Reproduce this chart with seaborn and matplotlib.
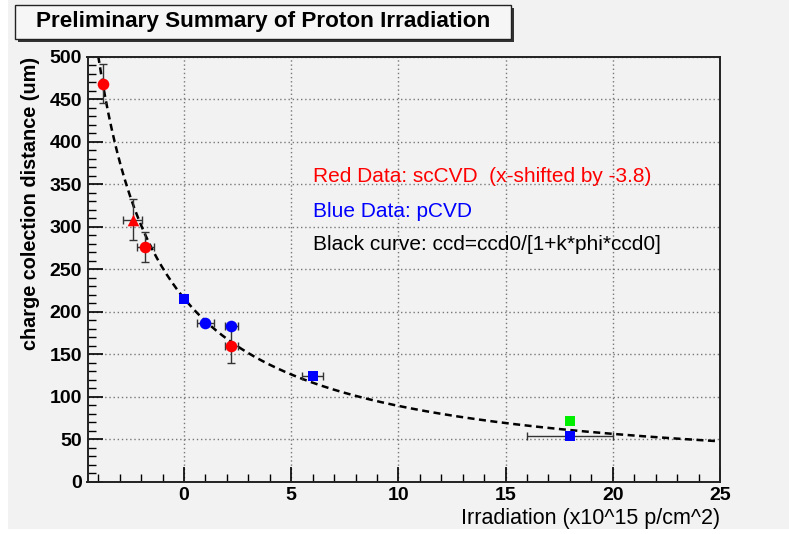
import numpy as np
import pandas as pd
import matplotlib
matplotlib.use("Agg")
import matplotlib.pyplot as plt
from matplotlib.patches import Rectangle
from matplotlib.ticker import MultipleLocator
import seaborn as sns


# values
red_x = [-3.8, -1.8, 2.2]
red_y = [468, 276, 160]
red_xerr = [0.0, 0.4, 0.3]
red_yerr = [23, 18, 20]

tri_x = [-2.4]
tri_y = [308]
tri_xerr = [0.43]
tri_yerr = [24]

blue_circ_x = [1.0, 2.2]
blue_circ_y = [187, 183]
blue_circ_xerr = [0.38, 0.3]

blue_sq_x = [0.0, 6.0, 18.0]
blue_sq_y = [215, 124, 54]
blue_sq_xerr = [0.0, 0.5, 2.0]

green_x = [18.0]
green_y = [71]

# ccd = ccd0 / [1 + k*phi*ccd0], phi measured from x = -3.8
ccd0 = 470.0
k_fit = 0.00066
phi_shift = -3.8

FONT = "Liberation Sans"
BG = "#f2f2f2"
ERR = "#333333"


def fit_curve():
    x = np.linspace(-4.5, 25, 400)
    phi = x - phi_shift
    y = ccd0 / (1 + k_fit * phi * ccd0)
    return pd.DataFrame({"x": x, "y": y})


def draw_errors(ax, x, y, xerr, yerr):
    ax.errorbar(x, y, xerr=xerr, yerr=yerr, fmt="none", ecolor=ERR,
                elinewidth=1.0, capsize=3, capthick=1.0, zorder=3)


def main():
    sns.set_style("ticks")
    plt.rcParams["font.family"] = [FONT, "DejaVu Sans"]
    plt.rcParams["text.color"] = "black"
    plt.rcParams["axes.labelcolor"] = "black"
    plt.rcParams["xtick.color"] = "black"
    plt.rcParams["ytick.color"] = "black"

    fig = plt.figure(figsize=(7.89, 5.34), dpi=100)
    fig.patch.set_facecolor("white")
    fig.add_artist(Rectangle((8 / 789, 5 / 534), 1, 1, transform=fig.transFigure,
                             facecolor=BG, edgecolor="none", zorder=-10))

    ax = fig.add_axes([87.5 / 789, 1 - 481.5 / 534, (720 - 87.5) / 789, (481.5 - 56.7) / 534])
    ax.set_facecolor(BG)

    curve = fit_curve()
    sns.lineplot(data=curve, x="x", y="y", ax=ax, color="black", linewidth=1.8,
                 dashes=False, zorder=2)
    ax.lines[-1].set_dashes((2.8, 1.8))

    draw_errors(ax, red_x, red_y, red_xerr, red_yerr)
    draw_errors(ax, tri_x, tri_y, tri_xerr, tri_yerr)
    draw_errors(ax, blue_circ_x, blue_circ_y, blue_circ_xerr, None)
    draw_errors(ax, blue_sq_x, blue_sq_y, blue_sq_xerr, None)

    kw = dict(ax=ax, linewidth=0, zorder=4, legend=False)
    sns.scatterplot(x=red_x, y=red_y, color="red", marker="o", s=70, **kw)
    sns.scatterplot(x=tri_x, y=tri_y, color="red", marker="^", s=70, **kw)
    sns.scatterplot(x=blue_circ_x, y=blue_circ_y, color="blue", marker="o", s=70, **kw)
    sns.scatterplot(x=blue_sq_x, y=blue_sq_y, color="blue", marker="s", s=55, **kw)
    sns.scatterplot(x=green_x, y=green_y, color="#00ee00", marker="s", s=55, **kw)

    ax.set_xlim(-4.5, 25)
    ax.set_ylim(0, 500)
    ax.xaxis.set_major_locator(MultipleLocator(5))
    ax.xaxis.set_minor_locator(MultipleLocator(1))
    ax.yaxis.set_major_locator(MultipleLocator(50))
    ax.yaxis.set_minor_locator(MultipleLocator(10))
    ax.grid(True, which="major", color="#777777", linestyle=(0, (1, 2)), linewidth=1.0)
    ax.tick_params(which="major", direction="in", length=11, width=1.2,
                   labelsize=14, pad=4, top=False, right=False)
    ax.tick_params(which="minor", direction="in", length=6, width=1.0,
                   top=False, right=False)
    for lab in ax.get_xticklabels() + ax.get_yticklabels():
        lab.set_fontweight("bold")
    for s in ax.spines.values():
        s.set_visible(True)
        s.set_linewidth(1.4)
        s.set_color("#222222")

    ax.set_xlabel("Irradiation (x10^15 p/cm^2)", loc="right", fontsize=15.5, labelpad=3)
    ax.set_ylabel("charge colection distance (um)", loc="top", fontsize=14.3,
                  fontweight="bold", labelpad=7)

    ax.text(6.0, 359, "Red Data: scCVD  (x-shifted by -3.8)", color="red",
            fontsize=15, va="center")
    ax.text(6.0, 318, "Blue Data: pCVD", color="blue", fontsize=15, va="center")
    ax.text(6.0, 279, "Black curve: ccd=ccd0/[1+k*phi*ccd0]", color="black",
            fontsize=15, va="center")

    # title box with shadow
    bx0, by0, bw, bh = 15, 5, 496, 34
    fig.add_artist(Rectangle(((bx0 + 3) / 789, 1 - (by0 + bh + 3) / 534), bw / 789, bh / 534,
                             transform=fig.transFigure, facecolor="#333333",
                             edgecolor="none", zorder=5))
    fig.add_artist(Rectangle((bx0 / 789, 1 - (by0 + bh) / 534), bw / 789, bh / 534,
                             transform=fig.transFigure, facecolor="#f6f6f6",
                             edgecolor="#222222", linewidth=1.0, zorder=6))
    fig.text((bx0 + bw / 2) / 789, 1 - (by0 + bh / 2) / 534,
             "Preliminary Summary of Proton Irradiation", ha="center", va="center",
             fontsize=16.2, fontweight="bold", zorder=7)

    fig.savefig("out.png", dpi=100, facecolor=fig.get_facecolor())
    plt.close(fig)


if __name__ == "__main__":
    main()
